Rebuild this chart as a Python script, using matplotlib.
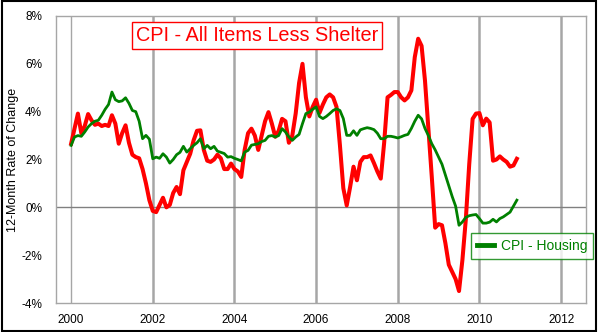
import matplotlib.pyplot as plt
import matplotlib.patches as patches
import numpy as np

plt.rcParams['font.family'] = ['Liberation Sans', 'DejaVu Sans']

# monthly 12-month rate of change, Jan 2000 - Dec 2010
less_shelter = [2.66, 3.3, 3.92, 3.1, 3.4, 3.9, 3.64, 3.45, 3.5, 3.4, 3.45, 3.4,
                3.85, 3.5, 2.66, 3.1, 3.43, 2.7, 2.2, 2.1, 2.05, 1.6, 1.0, 0.3,
                -0.15, -0.2, 0.1, 0.4, 0.0, 0.1, 0.6, 0.85, 0.55, 1.55, 1.9, 2.24,
                2.8, 3.2, 3.22, 2.4, 1.95, 1.9, 2.0, 2.2, 2.05, 1.6, 1.6, 1.83,
                1.6, 1.5, 1.27, 2.4, 3.1, 3.29, 3.0, 2.4, 3.0, 3.6, 3.98, 3.5,
                2.95, 3.2, 3.7, 3.6, 2.7, 3.0, 3.92, 5.2, 6.0, 4.6, 3.8, 4.2,
                4.5, 3.95, 4.3, 4.6, 4.72, 4.6, 4.2, 2.6, 0.8, 0.08, 0.85, 1.7,
                1.13, 1.9, 2.1, 2.1, 2.17, 1.85, 1.5, 1.2, 2.7, 4.6, 4.7, 4.82,
                4.82, 4.6, 4.47, 4.6, 4.89, 6.28, 7.05, 6.75, 5.3, 3.3, 1.27, -0.85,
                -0.7, -0.75, -1.5, -2.4, -2.7, -3.0, -3.5, -2.2, -0.5, 1.8, 3.7, 3.92,
                3.94, 3.43, 3.71, 3.55, 1.95, 2.0, 2.13, 2.0, 1.9, 1.7, 1.75, 2.03]

housing = [2.59, 2.94, 3.0, 2.97, 3.15, 3.36, 3.5, 3.6, 3.64, 3.85, 4.1, 4.3,
           4.82, 4.5, 4.42, 4.45, 4.58, 4.35, 4.05, 4.0, 3.6, 2.87, 3.01, 2.85,
           2.03, 2.1, 2.05, 2.24, 2.1, 1.85, 2.0, 2.2, 2.3, 2.55, 2.31, 2.45,
           2.59, 2.7, 2.87, 2.45, 2.59, 2.45, 2.55, 2.35, 2.3, 2.25, 2.1, 2.12,
           2.05, 2.0, 1.94, 2.31, 2.38, 2.6, 2.63, 2.66, 2.75, 2.8, 2.97, 3.0,
           2.94, 3.0, 3.29, 3.15, 2.94, 2.8, 2.94, 3.05, 3.5, 3.92, 3.98, 4.1,
           4.2, 3.8, 3.71, 3.8, 3.92, 4.05, 4.12, 4.05, 3.71, 3.01, 3.01, 3.2,
           3.01, 3.24, 3.29, 3.33, 3.3, 3.25, 3.1, 2.87, 2.87, 2.97, 2.97, 2.94,
           2.9, 2.95, 3.01, 3.05, 3.3, 3.6, 3.85, 3.7, 3.3, 3.0, 2.66, 2.4,
           2.1, 1.8, 1.35, 0.9, 0.45, 0.05, -0.75, -0.61, -0.42, -0.35, -0.32, -0.3,
           -0.47, -0.66, -0.66, -0.62, -0.5, -0.61, -0.47, -0.4, -0.3, -0.2, 0.05, 0.3]

dates = 2000 + np.arange(len(less_shelter)) / 12.0
year_ticks = [2000, 2002, 2004, 2006, 2008, 2010, 2012]
pct_ticks = [-4, -2, 0, 2, 4, 6, 8]

fig = plt.figure(figsize=(5.98, 3.32), dpi=100)
ax = fig.add_axes([56/598, 1 - 303/332, 530/598, 287/332])

for yr in year_ticks:
    ax.axvline(yr, color='#a6a6a6', lw=1.8 if yr != 2000 else 1.0, zorder=1)
ax.axhline(0, color='#808080', lw=1.0, zorder=1)

ax.plot(dates, less_shelter, color='#ff0000', lw=2.9, zorder=3)
ax.plot(dates, housing, color='#008000', lw=2.0, zorder=4, label='CPI - Housing')

ax.set_xlim(1999.63, 2012.61)
ax.set_ylim(-4, 8)
ax.set_xticks(year_ticks)
ax.set_yticks(pct_ticks)
ax.set_yticklabels([f'{v}%' for v in pct_ticks])
ax.tick_params(length=0, labelsize=8.5, pad=10)
ax.tick_params(axis='x', pad=8)
for s in ax.spines.values():
    s.set_color('#a6a6a6')
    s.set_linewidth(1.0)
ax.set_ylabel('12-Month Rate of Change', fontsize=9)
ax.yaxis.set_label_coords(-37/530, 0.5)

fig.text(257/598, 1 - 35.5/332, 'CPI - All Items Less Shelter', color='#ff0000',
         fontsize=14.3, ha='center', va='center',
         bbox=dict(boxstyle='square,pad=0.2', fc='white', ec='#ff0000', lw=1.0))

leg = ax.legend(loc='center', bbox_to_anchor=(532/598, 1 - 246/332),
                bbox_transform=fig.transFigure, fontsize=10, frameon=True,
                fancybox=False, edgecolor='#008000', handlelength=1.2,
                borderpad=0.4, handletextpad=0.5, borderaxespad=0)
leg.get_frame().set_linewidth(1.0)
for t in leg.get_texts():
    t.set_color('#008000')
leg.get_lines()[0].set_linewidth(3.5)

fig.patches.append(patches.Rectangle((0.003, 0.004), 0.993, 0.992, transform=fig.transFigure,
                                     fill=False, ec='black', lw=1.5))

fig.savefig('out.png', dpi=100)
